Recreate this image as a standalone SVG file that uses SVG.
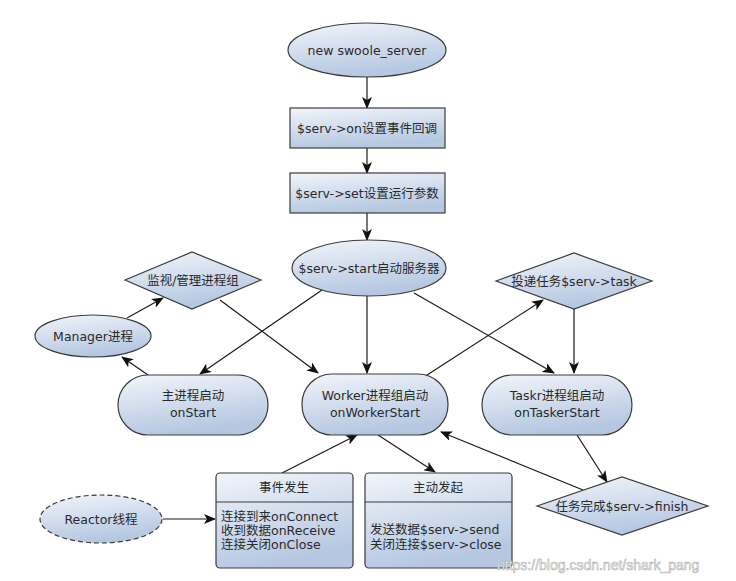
<svg xmlns="http://www.w3.org/2000/svg" width="736" height="581" viewBox="0 0 736 581">
<defs>
<linearGradient id="g" x1="0" y1="0" x2="0.3" y2="1">
<stop offset="0" stop-color="#f2f5fb"/>
<stop offset="1" stop-color="#b5c7e1"/>
</linearGradient>
<marker id="ah" viewBox="0 0 12 10" refX="11" refY="5" markerWidth="12" markerHeight="10" markerUnits="userSpaceOnUse" orient="auto">
<path d="M0,0 L12,5 L0,10 L3,5 z" fill="#111"/>
</marker>
</defs>
<style>
.n{fill:url(#g);stroke:#3c3c3c;stroke-width:1.2}
.d{stroke-dasharray:5,3}
.t{font-family:"DejaVu Sans","Noto Sans CJK SC",sans-serif;font-size:12.5px;fill:#2a2a2a;text-anchor:middle}
.l{text-anchor:start}
.c line,.c path{stroke:#1a1a1a;stroke-width:1.2;fill:none;marker-end:url(#ah)}
.w{font-family:"Liberation Sans",Arial,sans-serif;font-size:14px;fill:#ffffff;stroke:#b0b0b0;stroke-width:0.6}
</style>
<rect width="736" height="581" fill="#fff"/>
<g class="c" id="connectors">
<line x1="367" y1="77" x2="367" y2="108"/>
<line x1="367" y1="148" x2="367" y2="173"/>
<line x1="367" y1="213" x2="367" y2="240"/>
<line x1="322" y1="290" x2="200" y2="374"/>
<line x1="367" y1="296" x2="367" y2="373"/>
<line x1="414" y1="293" x2="554" y2="373"/>
<line x1="220" y1="300" x2="318" y2="373"/>
<line x1="127" y1="318" x2="163" y2="298"/>
<line x1="148" y1="375" x2="122" y2="357"/>
<line x1="424" y1="377" x2="543" y2="300"/>
<line x1="574" y1="309" x2="574" y2="373"/>
<line x1="577" y1="435" x2="607" y2="482"/>
<line x1="583" y1="490" x2="441" y2="432"/>
<line x1="282" y1="473" x2="357" y2="435"/>
<line x1="378" y1="435" x2="435" y2="472"/>
<line x1="163" y1="519" x2="215" y2="519"/>
</g>
<g id="new_server">
<ellipse class="n" cx="367" cy="50" rx="79" ry="27"/>
<text class="t" x="367" y="55">new swoole_server</text>
</g>
<g id="serv_on">
<rect class="n" x="290" y="108" width="155" height="40"/>
<text class="t" x="367" y="133">$serv-&gt;on设置事件回调</text>
</g>
<g id="serv_set">
<rect class="n" x="290" y="173" width="155" height="40"/>
<text class="t" x="367" y="198">$serv-&gt;set设置运行参数</text>
</g>
<g id="serv_start">
<ellipse class="n" cx="369" cy="268" rx="77" ry="28"/>
<text class="t" x="369" y="273">$serv-&gt;start启动服务器</text>
</g>
<g id="monitor">
<polygon class="n" points="125,280 192,252 261,280 192,309"/>
<text class="t" x="193" y="285">监视/管理进程组</text>
</g>
<g id="manager">
<ellipse class="n" cx="93" cy="336" rx="58" ry="21"/>
<text class="t" x="93" y="341">Manager进程</text>
</g>
<g id="master">
<rect class="n" x="118" y="375" width="150" height="60" rx="30"/>
<text class="t" x="193" y="400">主进程启动</text>
<text class="t" x="193" y="417">onStart</text>
</g>
<g id="worker">
<rect class="n" x="302" y="374" width="146" height="61" rx="30"/>
<text class="t" x="375" y="400">Worker进程组启动</text>
<text class="t" x="375" y="417">onWorkerStart</text>
</g>
<g id="task_dispatch">
<polygon class="n" points="496,281 574,253 652,281 574,309"/>
<text class="t" x="574" y="286">投递任务$serv-&gt;task</text>
</g>
<g id="tasker">
<rect class="n" x="482" y="375" width="150" height="60" rx="30"/>
<text class="t" x="557" y="400">Taskr进程组启动</text>
<text class="t" x="557" y="417">onTaskerStart</text>
</g>
<g id="reactor">
<ellipse class="n d" cx="101" cy="519" rx="61" ry="24"/>
<text class="t" x="101" y="524">Reactor线程</text>
</g>
<g id="event">
<rect class="n" x="216" y="473" width="137" height="95" rx="4"/>
<line x1="216" y1="502" x2="353" y2="502" stroke="#3c3c3c" stroke-width="1.2"/>
<text class="t" x="284" y="492">事件发生</text>
<text class="t l" x="221" y="521">连接到来onConnect</text>
<text class="t l" x="221" y="535">收到数据onReceive</text>
<text class="t l" x="221" y="549">连接关闭onClose</text>
</g>
<g id="active">
<rect class="n" x="365" y="473" width="147" height="95" rx="4"/>
<line x1="365" y1="502" x2="512" y2="502" stroke="#3c3c3c" stroke-width="1.2"/>
<text class="t" x="438" y="492">主动发起</text>
<text class="t l" x="370" y="534">发送数据$serv-&gt;send</text>
<text class="t l" x="370" y="549">关闭连接$serv-&gt;close</text>
</g>
<g id="finish">
<polygon class="n" points="537,506 622,477 708,506 622,535"/>
<text class="t" x="622" y="511">任务完成$serv-&gt;finish</text>
</g>
<text class="w" x="497" y="570">https://blog.csdn.net/shark_pang</text>
</svg>
